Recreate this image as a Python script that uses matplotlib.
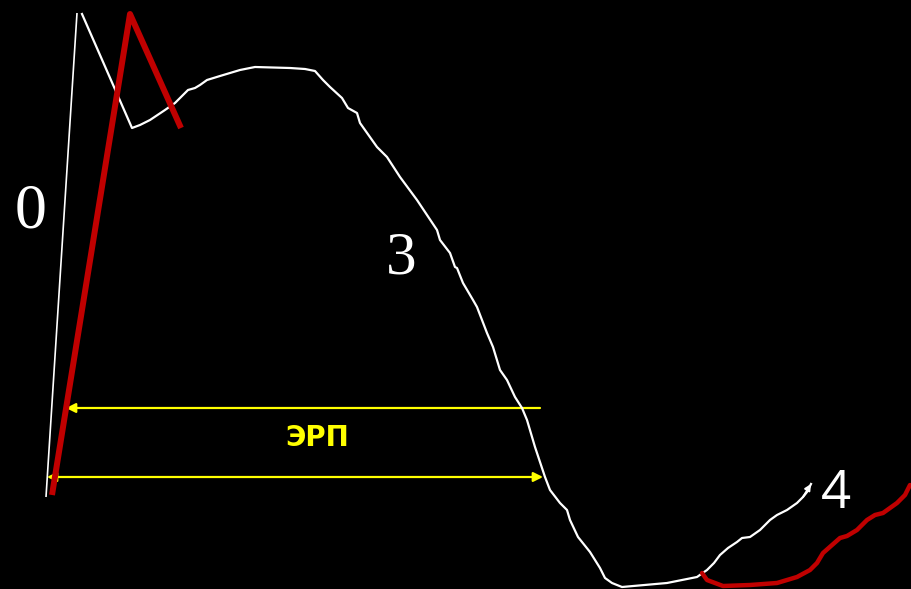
import matplotlib.pyplot as plt
from matplotlib.patches import FancyArrowPatch

# координаты точек кривой (в пикселях картинки, y вниз)
upstroke_x = [46, 77]
upstroke_y = [497, 13]

white_x = [82, 132, 140, 150, 165, 175, 183, 188, 195, 200, 207, 220, 240, 255, 290, 305,
           315, 323, 330, 342, 348, 357, 360, 377, 387, 400, 417, 437, 440, 450, 455, 457,
           463, 473, 477, 487, 493, 500, 507, 515, 522, 527, 535, 545, 550, 560, 567, 570,
           578, 590, 600, 605, 612, 622, 667, 697, 707, 714, 720, 728, 737, 742, 750, 760,
           770, 777, 787, 797, 803, 807, 811]
white_y = [14, 128, 125, 120, 110, 103, 95, 90, 88, 85, 80, 76, 70, 67, 68, 69,
           71, 80, 87, 98, 108, 113, 123, 147, 157, 177, 200, 230, 240, 253, 267, 268,
           283, 300, 307, 333, 347, 370, 380, 397, 408, 420, 447, 477, 490, 503, 510, 520,
           537, 552, 568, 578, 583, 587, 583, 577, 570, 563, 555, 548, 542, 538, 537, 530,
           520, 515, 510, 503, 497, 492, 484]

red_up_x = [52, 130, 181]
red_up_y = [495, 14, 128]

red_low_x = [702, 707, 723, 750, 777, 797, 810, 817, 823, 840, 847, 857, 867, 875, 883, 897, 905, 910]
red_low_y = [573, 580, 586, 585, 583, 577, 570, 563, 553, 538, 536, 530, 520, 515, 513, 503, 495, 485]

labels = ['0', '3', '4', 'ЭРП']

fig = plt.figure(figsize=(9.11, 5.89), dpi=100, facecolor='black')
ax = fig.add_axes([0, 0, 1, 1])
ax.set_facecolor('black')
ax.set_xlim(0, 911)
ax.set_ylim(589, 0)
ax.axis('off')

# белая кривая потенциала действия
ax.plot(upstroke_x, upstroke_y, color='white', lw=1.2, solid_capstyle='butt')
ax.plot(white_x, white_y, color='white', lw=1.6, solid_joinstyle='round')
ax.annotate('', xy=(white_x[-1], white_y[-1]), xytext=(white_x[-3], white_y[-3]),
            arrowprops=dict(arrowstyle='-|>', color='white', lw=1.4,
                            mutation_scale=9, shrinkA=0, shrinkB=0))

# красные линии
ax.plot(red_up_x, red_up_y, color='#c00000', lw=4.3, solid_capstyle='butt')
ax.plot(red_low_x, red_low_y, color='#c00000', lw=3.2, solid_capstyle='round',
        solid_joinstyle='round')

# жёлтые стрелки ЭРП
yellow = '#ffff00'
a1 = FancyArrowPatch((540, 408), (66, 408), arrowstyle='-|>', mutation_scale=14,
                     color=yellow, lw=1.6, shrinkA=0, shrinkB=0)
a2 = FancyArrowPatch((47, 477), (543, 477), arrowstyle='<|-|>', mutation_scale=14,
                     color=yellow, lw=1.6, shrinkA=0, shrinkB=0)
ax.add_patch(a1)
ax.add_patch(a2)

# подписи
ax.text(31, 213, labels[0], color='white', fontsize=46, family='Liberation Serif',
        ha='center', va='center')
ax.text(401, 259, labels[1], color='white', fontsize=44, family='Liberation Serif',
        ha='center', va='center')
ax.text(836, 494, labels[2], color='white', fontsize=38, family='Open Sans',
        ha='center', va='center')
ax.text(317, 438, labels[3], color=yellow, fontsize=20, family='DejaVu Sans',
        fontweight='bold', ha='center', va='center')

fig.savefig('out.png', dpi=100, facecolor='black')
